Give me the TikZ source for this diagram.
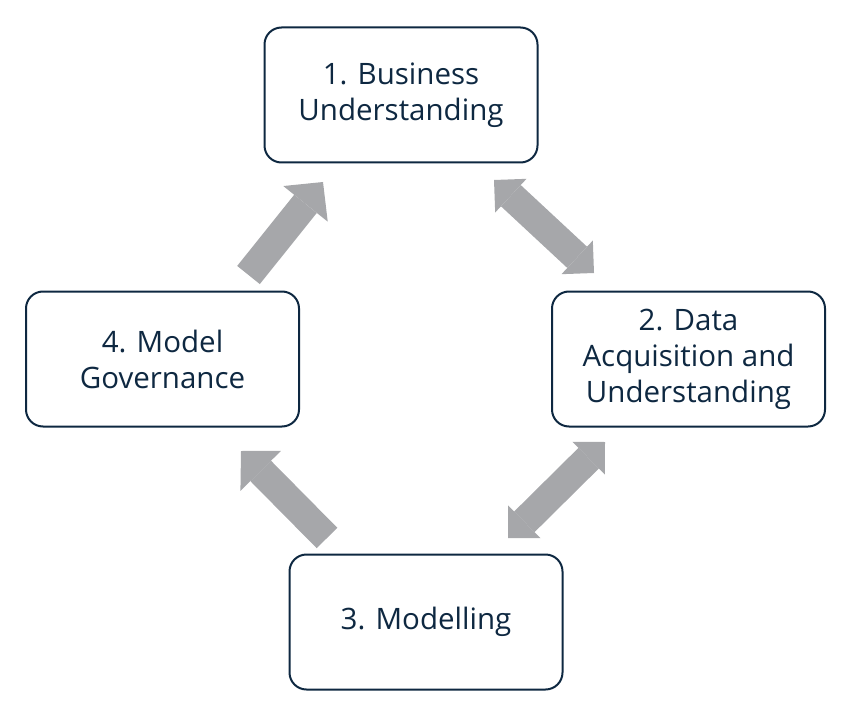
\documentclass[tikz,border=0pt]{standalone}
\usepackage{fontspec}
\setmainfont{Open Sans}
\usetikzlibrary{arrows.meta}
\definecolor{navy}{HTML}{0E2841}
\definecolor{arrowgray}{RGB}{166,167,170}
\begin{document}
\begin{tikzpicture}[x=1pt,y=-1pt,
  stagebox/.style={draw=navy, line width=2pt, rounded corners=17pt,
    minimum width=273pt, minimum height=135pt, align=center, text=navy,
    font=\fontsize{29.5}{36}\selectfont, inner sep=0pt},
  bigarrow/.style={draw=arrowgray, line width=29pt},
  onehead/.style={-{Triangle[length=28pt,width=57pt,line width=0pt]}},
  twoheads/.style={{Triangle[length=23pt,width=46pt,line width=0pt]}-{Triangle[length=23pt,width=46pt,line width=0pt]}}]
\useasboundingbox (0,0) rectangle (858,703);
\node[stagebox] (b1) at (401,95) {1. Business\\Understanding};
\node[stagebox] (b2) at (688.5,359) {2. Data\\Acquisition and\\Understanding};
\node[stagebox] (b3) at (426,622) {3. Modelling};
\node[stagebox] (b4) at (162.5,359) {4. Model\\Governance};
\coordinate (a41s) at (248.5,275);
\coordinate (a41e) at (323,182);
\coordinate (a12s) at (494,180);
\coordinate (a12e) at (594,273);
\coordinate (a23s) at (605,442);
\coordinate (a23e) at (508,538);
\coordinate (a34s) at (327,538);
\coordinate (a34e) at (241,451);
\draw[bigarrow,onehead] (a41s) -- (a41e);
\draw[bigarrow,twoheads] (a12s) -- (a12e);
\draw[bigarrow,twoheads] (a23s) -- (a23e);
\draw[bigarrow,onehead] (a34s) -- (a34e);
\end{tikzpicture}
\end{document}
